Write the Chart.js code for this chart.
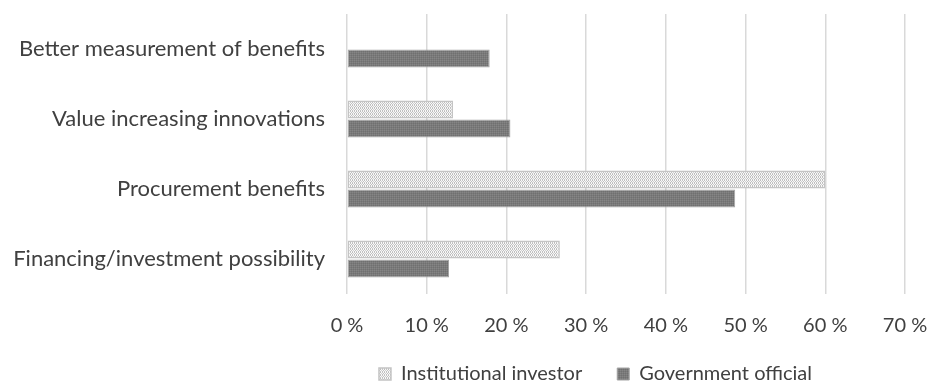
<!DOCTYPE html>
<html>
<head>
<meta charset="utf-8">
<script src="https://cdn.jsdelivr.net/npm/chart.js@4.4.1/dist/chart.umd.min.js"></script>
<style>
  html, body { margin: 0; padding: 0; background: #ffffff; }
  #wrap { width: 930px; height: 387px; position: relative; }
</style>
</head>
<body>
<div id="wrap"><canvas id="c"></canvas></div>
<script>
// ---- Data ----
const categories = [
  'Better measurement of benefits',
  'Value increasing innovations',
  'Procurement benefits',
  'Financing/investment possibility'
];
const seriesNames = ['Institutional investor', 'Government official'];
const investorValues = [0, 13.3, 60, 26.7];
const governmentValues = [17.9, 20.5, 48.7, 12.8];
const tickValues = [0, 10, 20, 30, 40, 50, 60, 70];

// ---- Styling helpers ----
const FONT = 'Lato, "Open Sans", sans-serif';
const LEGEND_PAD = 35;
const LEGEND_FONT = 20;
const X_AXIS_H = 55;
const LEGEND_H = LEGEND_FONT + LEGEND_PAD + 10;

function makePattern(w, h, bg, dots) {
  const pc = document.createElement('canvas');
  pc.width = w; pc.height = h;
  const g = pc.getContext('2d');
  g.fillStyle = bg; g.fillRect(0, 0, w, h);
  dots.forEach(d => { g.fillStyle = d[2]; g.fillRect(d[0], d[1], 1, 1); });
  return document.getElementById('c').getContext('2d').createPattern(pc, 'repeat');
}

const investorFill = makePattern(4, 3, '#f8f8f8', [[0,0,'#bcbcbc'],[2,0,'#c6c6c6'],[1,1,'#d0d0d0'],[3,1,'#c0c0c0'],[0,2,'#c6c6c6'],[2,2,'#bcbcbc']]);
const governmentFill = makePattern(2, 2, '#7a7a7a', [[0,0,'#858585'],[1,1,'#707070']]);

const legendShift = {
  id: 'legendShift',
  afterLayout(chart) {
    const lg = chart.legend;
    if (!lg) return;
    const dy = 374 - (lg.top + LEGEND_PAD + LEGEND_FONT / 2);
    lg.left += 143; lg.right += 143;
    lg.top += dy; lg.bottom += dy;
  }
};

new Chart(document.getElementById('c'), {
  type: 'bar',
  data: {
    labels: categories,
    datasets: [
      {
        label: seriesNames[0],
        data: investorValues,
        backgroundColor: investorFill,
        borderColor: '#c4c4c4',
        borderWidth: 1.5,
        borderSkipped: false,
        categoryPercentage: 0.54,
        barPercentage: 0.95
      },
      {
        label: seriesNames[1],
        data: governmentValues,
        backgroundColor: governmentFill,
        borderColor: '#a4a4a4',
        borderWidth: 1,
        borderSkipped: false,
        categoryPercentage: 0.54,
        barPercentage: 0.95
      }
    ]
  },
  options: {
    indexAxis: 'y',
    responsive: true,
    maintainAspectRatio: false,
    animation: false,
    devicePixelRatio: 1,
    layout: { padding: { top: 14, right: 25, bottom: 387 - 294 - X_AXIS_H - LEGEND_H, left: 0 } },
    scales: {
      x: {
        min: 0, max: 70,
        afterBuildTicks(scale) { scale.ticks = tickValues.map(v => ({ value: v })); },
        afterFit(scale) {
          scale.height = X_AXIS_H;
          scale.paddingLeft = 0; scale.paddingRight = 0;
        },
        grid: { color: '#d9d9d9', lineWidth: 1.5, drawTicks: false },
        border: { display: false },
        ticks: {
          padding: 20,
          color: '#404040',
          font: { family: FONT, size: 20 },
          callback: v => v + ' %'
        }
      },
      y: {
        afterFit(scale) {
          scale.width = 347;
          scale.paddingTop = 0; scale.paddingBottom = 0;
        },
        grid: { display: false, drawTicks: false },
        border: { display: false },
        ticks: {
          padding: 22,
          color: '#404040',
          font: { family: FONT, size: 22 }
        }
      }
    },
    plugins: {
      legend: {
        position: 'bottom',
        labels: {
          boxWidth: 12,
          boxHeight: 12,
          padding: LEGEND_PAD,
          color: '#404040',
          font: { family: FONT, size: LEGEND_FONT }
        }
      },
      tooltip: { enabled: false }
    }
  },
  plugins: [legendShift]
});
</script>
</body>
</html>
